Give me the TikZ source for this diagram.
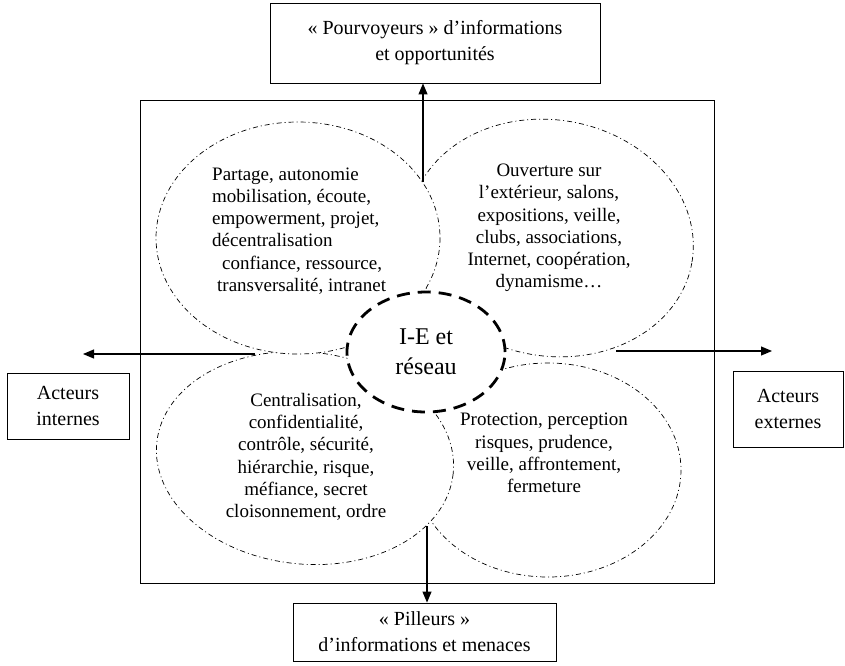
\documentclass[tikz,border=0pt]{standalone}
\usepackage{fontspec}
\setmainfont{Liberation Serif}
\usetikzlibrary{arrows.meta,positioning,shapes.geometric}
\tikzset{
  cadre/.style={draw, line width=0.9pt, align=center, inner sep=0pt, font=\fontsize{20}{26}\selectfont},
  zone/.style={draw, fill=white, line width=0.7pt, dash pattern=on 5pt off 3pt on 1pt off 3pt},
  zonetexte/.style={inner sep=0pt, font=\fontsize{19}{22.3}\selectfont},
  fleche/.style={line width=1.1pt, -{Triangle[length=11pt,width=9pt]}}
}
\begin{document}
\begin{tikzpicture}[x=1pt,y=-1pt]
\useasboundingbox (0,0) rectangle (845,665);
% cadre principal
\node[draw, line width=0.9pt, minimum width=574pt, minimum height=483pt, inner sep=0pt] (reseau) at (427,341.5) {};
% les quatre zones
\draw[zone, rotate around={-10:(551,238)}] (551,238) ellipse [x radius=143, y radius=118];
\draw[zone] (548,470) ellipse [x radius=133, y radius=107];
\draw[zone, rotate around={-6:(305,458)}] (305,458) ellipse [x radius=149, y radius=106];
\draw[zone] (298,238) ellipse [x radius=142, y radius=116];
\node[draw, fill=white, ellipse, line width=2.8pt, dash pattern=on 13pt off 8pt,
  minimum width=158pt, minimum height=120pt, inner sep=0pt, align=center,
  font=\fontsize{24}{30}\selectfont] (ie) at (426,352) {I-E et\\réseau};
% textes des zones
\node[zonetexte, align=left, anchor=west] (partage) at (212,231) {Partage, autonomie\\ mobilisation, écoute,\\ empowerment, projet,\\ décentralisation\\ \hspace*{10pt}confiance, ressource,\\ \hspace*{5pt}transversalité, intranet};
\node[zonetexte, align=center] (ouverture) at (549,228) {Ouverture sur\\ l’extérieur, salons,\\ expositions, veille,\\ clubs, associations,\\ Internet, coopération,\\ dynamisme…};
\node[zonetexte, align=center] (centralisation) at (306,457) {Centralisation,\\ confidentialité,\\ contrôle, sécurité,\\ hiérarchie, risque,\\ méfiance, secret\\ cloisonnement, ordre};
\node[zonetexte, align=center] (protection) at (544,453) {Protection, perception\\ risques, prudence,\\ veille, affrontement,\\ fermeture};
% acteurs
\node[cadre, minimum width=330pt, minimum height=80pt] (pourvoyeurs) at (435,43) {«~Pourvoyeurs~» d’informations\\ et opportunités};
\node[cadre, minimum width=122pt, minimum height=66pt] (internes) at (68,406) {Acteurs\\ internes};
\node[cadre, minimum width=110pt, minimum height=76pt] (externes) at (788,409) {Acteurs\\ externes};
\node[cadre, minimum width=263pt, minimum height=58pt] (pilleurs) at (424.5,632) {«~Pilleurs~»\\ d’informations et menaces};
% fleches
\coordinate (haut) at (423,182);
\coordinate (gauche) at (255,354);
\coordinate (gauchefin) at (83,354);
\coordinate (droite) at (616,351);
\coordinate (droitefin) at (772,351);
\coordinate (bas) at (427,526);
\draw[fleche] (haut) -- (haut |- pourvoyeurs.south);
\draw[fleche] (gauche) -- (gauchefin);
\draw[fleche] (droite) -- (droitefin);
\draw[fleche] (bas) -- (bas |- pilleurs.north);
\end{tikzpicture}
\end{document}
